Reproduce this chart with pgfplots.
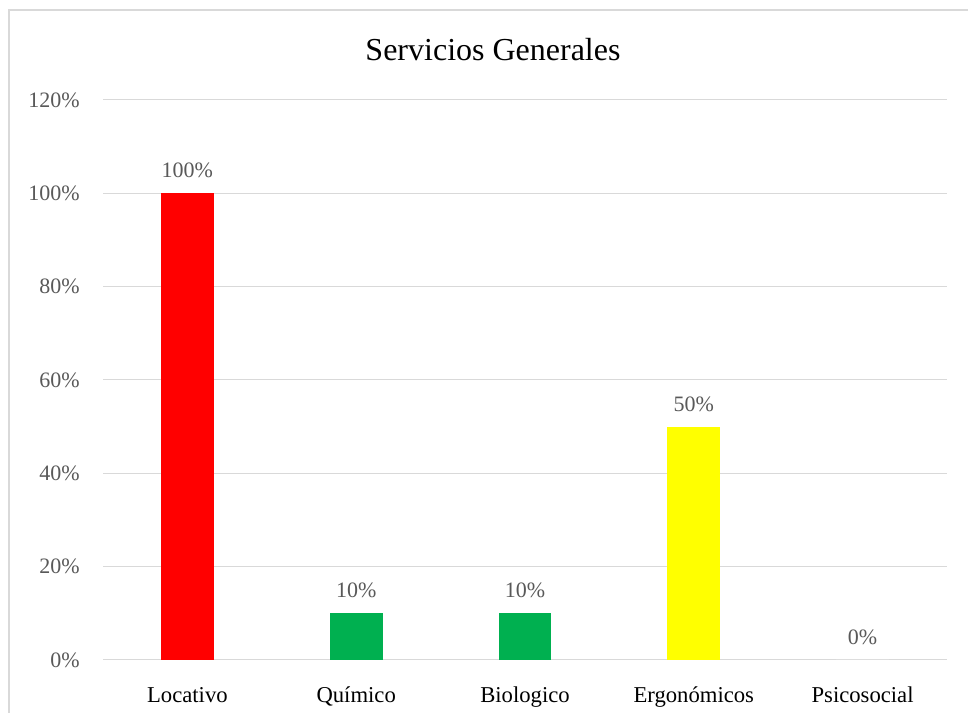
\documentclass[border=0pt]{standalone}
\usepackage{pgfplots}
\pgfplotsset{compat=1.18}
\usepackage{fontspec}
\setmainfont{Liberation Serif}
\definecolor{gridc}{HTML}{D9D9D9}
\definecolor{txt}{HTML}{595959}
\definecolor{bred}{HTML}{FF0000}
\definecolor{bgreen}{HTML}{00B050}
\definecolor{byellow}{HTML}{FFFF00}
\begin{document}
\begin{tikzpicture}
\useasboundingbox (0,0) rectangle (726pt,534.75pt);
\fill[white] (0,0) rectangle (726pt,534.75pt);
\draw[gridc, line width=1.2pt] (6.75pt,0) -- (6.75pt,527.25pt) -- (726pt,527.25pt);
\node[font=\fontsize{24}{28}\selectfont] at (369.75pt,497.25pt) {Servicios Generales};
\begin{axis}[
  at={(77.25pt,39.75pt)}, anchor=south west,
  scale only axis, width=633pt, height=420pt,
  xmin=-0.5, xmax=4.5, ymin=0, ymax=120,
  ytick={0,20,...,120},
  xtick={0,1,2,3,4},
  xticklabels={Locativo,Químico,Biologico,Ergonómicos,Psicosocial},
  axis line style={draw=none},
  tick style={draw=none},
  ymajorgrids, grid style={gridc, line width=0.75pt},
  /pgf/number format/assume math mode=true,
  yticklabel={\pgfmathprintnumber{\tick}\%},
  yticklabel style={font=\fontsize{16.5}{20}\selectfont, text=txt, anchor=east, inner sep=0pt, xshift=-17.25pt},
  xticklabel style={font=\fontsize{17}{20}\selectfont, text=black, anchor=base, inner sep=0pt, yshift=-27.75pt},
  ybar, bar width=0.3136, bar shift=0pt,
  nodes near coords={\pgfmathprintnumber{\pgfplotspointmeta}\%},
  every node near coord/.append style={anchor=base, yshift=11.6pt, inner sep=0pt, font=\fontsize{16.5}{20}\selectfont, text=txt},
  clip=false,
]
\addplot[fill=bred, draw=none] coordinates {(0,100)};
\addplot[fill=bgreen, draw=none] coordinates {(1,10)};
\addplot[fill=bgreen, draw=none] coordinates {(2,10)};
\addplot[fill=byellow, draw=none] coordinates {(3,50)};
\addplot[fill=white, draw=none] coordinates {(4,0)};
\end{axis}
\end{tikzpicture}
\end{document}
